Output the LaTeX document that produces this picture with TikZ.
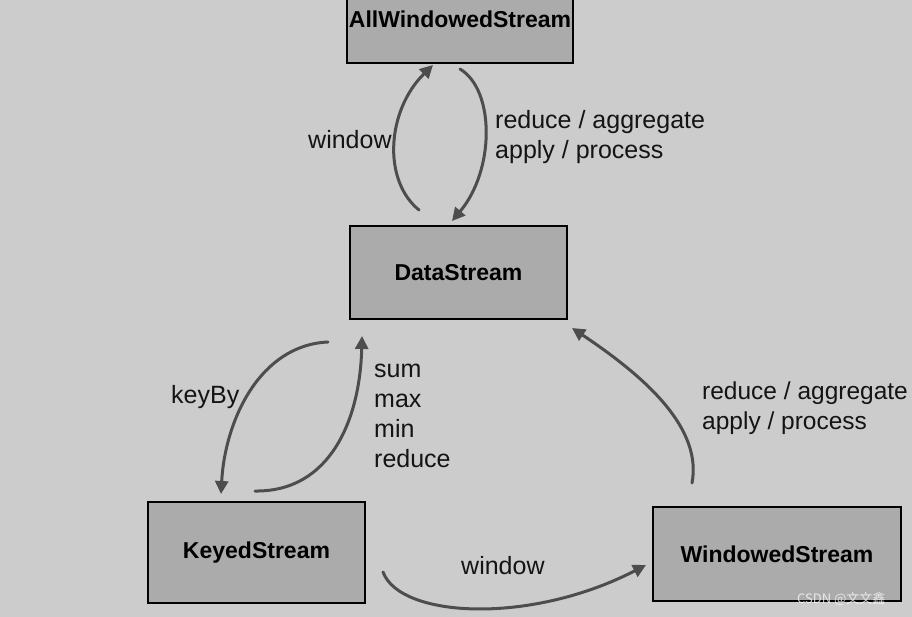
\documentclass[tikz,border=0pt]{standalone}
\usepackage{fontspec}
\setmainfont{Liberation Sans}
\newfontfamily\cjkfont{Noto Sans CJK SC}
\usetikzlibrary{arrows.meta}
\definecolor{bgc}{HTML}{CCCCCC}
\definecolor{boxc}{HTML}{ABABAB}
\definecolor{arrc}{HTML}{4D4D4D}
\tikzset{
  streambox/.style={draw=black, line width=1.6pt, fill=boxc, inner sep=0pt,
    font=\fontsize{23}{27}\selectfont\bfseries, text=black},
  flow/.style={draw=arrc, line width=3pt, line cap=round,
    -{Triangle[length=13pt,width=13pt]}},
  lbl/.style={font=\fontsize{25}{30}\selectfont, text=black!92, anchor=west, inner sep=0pt, align=left}
}
\begin{document}
\begin{tikzpicture}[x=1pt,y=-1pt]
\useasboundingbox (0,0) rectangle (912,616);
\fill[bgc] (-10,-10) rectangle (922,630);

\node[streambox, minimum width=226pt, minimum height=88pt] (aws) at (460,19) {AllWindowedStream};
\node[streambox, minimum width=217pt, minimum height=93pt] (ds) at (458.5,272.5) {DataStream};
\node[streambox, minimum width=217pt, minimum height=101pt] (ks) at (256.5,552.5) {KeyedStream};
\node[streambox, minimum width=248pt, minimum height=94pt] (ws) at (777,554) {WindowedStream};

% connector end points
\coordinate (a1s) at (419,210);
\coordinate (a1e) at (433,65);
\coordinate (a2s) at (460,69);
\coordinate (a2e) at (452,221);
\coordinate (a3s) at (328,342);
\coordinate (a3e) at (221,494);
\coordinate (a4s) at (255,491);
\coordinate (a4e) at (362,336);
\coordinate (a5s) at (692,483);
\coordinate (a5e) at (572,328);
\coordinate (a6s) at (383,572);
\coordinate (a6e) at (646,565);

\draw[flow] (a1s) .. controls (382,180) and (387,110) .. (a1e);
\draw[flow] (a2s) .. controls (495,90) and (495,170) .. (a2e);
\draw[flow] (a3s) .. controls (260,345) and (225,420) .. (a3e);
\draw[flow] (a4s) .. controls (330,492) and (360,420) .. (a4e);
\draw[flow] (a5s) .. controls (702,430) and (650,380) .. (a5e);
\draw[flow] (a6s) .. controls (400,618) and (530,625) .. (a6e);

\node[lbl] (l1) at (308,140) {window};
\node[lbl, anchor=north west] (l2) at (495,110) {reduce / aggregate\\apply / process};
\node[lbl] (l3) at (171,397) {keyBy};
\node[lbl, anchor=north west] (l4) at (374,364) {sum\\max\\min\\reduce};
\node[lbl, anchor=north west, font=\fontsize{24.5}{30}\selectfont] (l5) at (702,382) {reduce / aggregate\\apply / process};
\node[lbl] (l6) at (461,566) {window};

\node[anchor=west, inner sep=0pt, text=white, opacity=0.75, font=\cjkfont\fontsize{13}{15}\selectfont] (wm) at (797,599) {CSDN @文文鑫};
\end{tikzpicture}
\end{document}
